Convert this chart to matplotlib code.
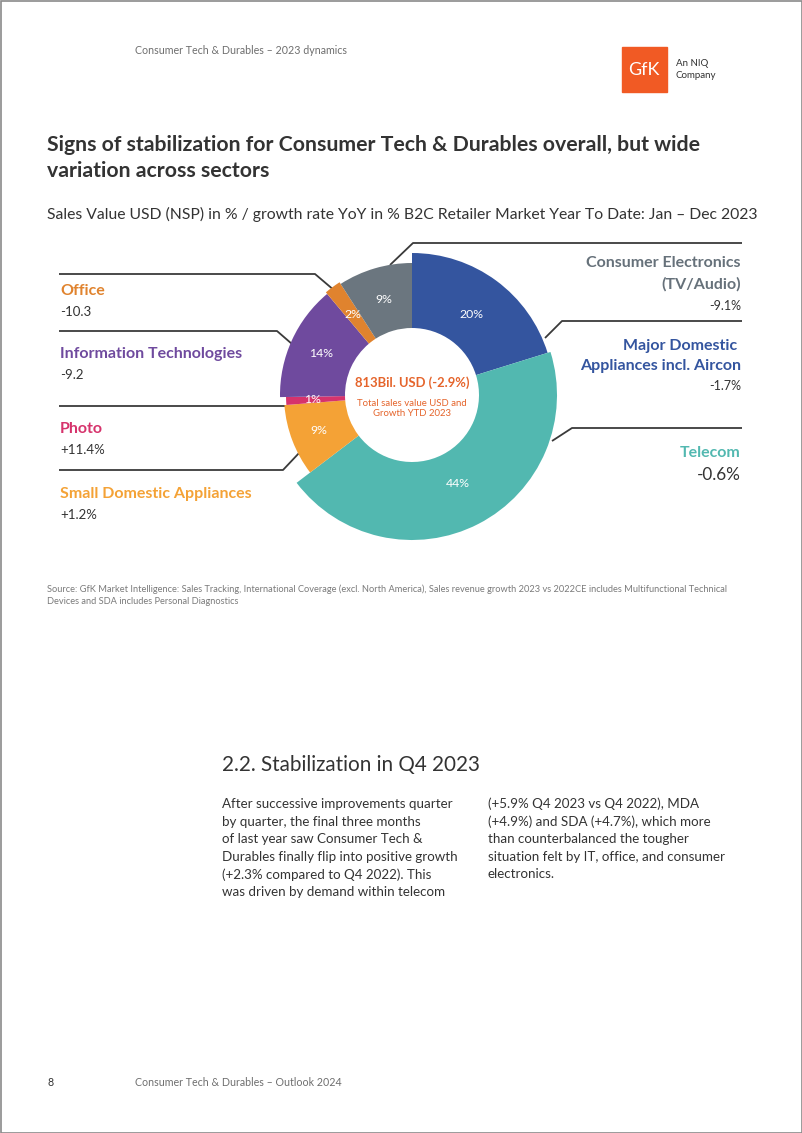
import numpy as np
import matplotlib.pyplot as plt
from matplotlib.patches import Rectangle

plt.rcParams['font.family'] = ['Lato', 'DejaVu Sans']

# chart data
sectors = ['Major Domestic Appliances incl. Aircon', 'Telecom', 'Small Domestic Appliances',
           'Photo', 'Information Technologies', 'Office', 'Consumer Electronics (TV/Audio)']
shares = [20, 44, 9, 1, 14, 2, 9]
growth = ['-1.7%', '-0.6%', '+1.2%', '+11.4%', '-9.2', '-10.3', '-9.1%']
outer_r = [142, 145, 128, 126, 132, 134, 132]
colors = ['#34559f', '#52b8b0', '#f4a236', '#d6336c', '#6f4a9e', '#e0832e', '#6b767f']
label_colors = ['#34559f', '#52b8b0', '#f4a236', '#d6336c', '#6f4a9e', '#e0832e', '#66717a']
total_text = '813Bil. USD (-2.9%)'

W, H = 802, 1133
fig = plt.figure(figsize=(W / 100, H / 100), dpi=100)
fig.patch.set_facecolor('white')

# page overlay in pixel coordinates
pg = fig.add_axes([0, 0, 1, 1])
pg.set_xlim(0, W)
pg.set_ylim(H, 0)
pg.axis('off')
pg.add_patch(Rectangle((0.5, 0.5), W - 1, H - 1, fill=False, ec='#8a8a8a', lw=1.2))

grey = '#6e6e6e'
dark = '#333333'
pg.text(135, 51, 'Consumer Tech & Durables – 2023 dynamics', fontsize=7.7, color=grey, va='center')
pg.add_patch(Rectangle((622, 47), 45, 45, color='#f15a24'))
pg.text(644, 70, 'GfK', fontsize=13, color='white', ha='center', va='center')
pg.text(676, 63, 'An NIQ', fontsize=7, color=dark, va='center')
pg.text(676, 75, 'Company', fontsize=7, color=dark, va='center')

pg.text(47, 145, 'Signs of stabilization for Consumer Tech & Durables overall, but wide',
        fontsize=15.3, fontweight='bold', color=dark, va='center')
pg.text(47, 171, 'variation across sectors', fontsize=15.3, fontweight='bold', color=dark, va='center')
pg.text(47, 214, 'Sales Value USD (NSP) in % / growth rate YoY in % B2C Retailer Market Year To Date: Jan – Dec 2023',
        fontsize=11.3, color=dark, va='center')

# leader lines
lc = '#3a3a3a'
leaders = [
    [(59, 274), (315, 274), (335, 291)],
    [(59, 331), (277, 331), (292, 344)],
    [(59, 406), (290, 406)],
    [(59, 470), (283, 470), (300, 452)],
    [(390, 265), (413, 243), (742, 243)],
    [(545, 338), (562, 321), (742, 321)],
    [(552, 441), (572, 428), (742, 428)],
]
for pts in leaders:
    xs, ys = zip(*pts)
    pg.plot(xs, ys, color=lc, lw=1.3, solid_capstyle='butt')

# left labels
pg.text(60, 291, sectors[5], fontsize=11.5, fontweight='bold', color=label_colors[5], va='center')
pg.text(60, 312, growth[5], fontsize=9.5, color=dark, va='center')
pg.text(60, 354, sectors[4], fontsize=11.5, fontweight='bold', color=label_colors[4], va='center')
pg.text(60, 375, growth[4], fontsize=9.5, color=dark, va='center')
pg.text(60, 429, sectors[3], fontsize=11.5, fontweight='bold', color=label_colors[3], va='center')
pg.text(60, 450, growth[3], fontsize=9.5, color=dark, va='center')
pg.text(60, 494, sectors[2], fontsize=11.5, fontweight='bold', color=label_colors[2], va='center')
pg.text(60, 515, growth[2], fontsize=9.5, color=dark, va='center')

# right labels
pg.text(741, 263, 'Consumer Electronics', fontsize=11.5, fontweight='bold', color=label_colors[6], ha='right', va='center')
pg.text(741, 284, '(TV/Audio)', fontsize=11.5, fontweight='bold', color=label_colors[6], ha='right', va='center')
pg.text(741, 306, growth[6], fontsize=9, color=dark, ha='right', va='center')
pg.text(741, 346, 'Major Domestic ', fontsize=11.5, fontweight='bold', color=label_colors[0], ha='right', va='center')
pg.text(741, 366, 'Appliances incl. Aircon', fontsize=11.5, fontweight='bold', color=label_colors[0], ha='right', va='center')
pg.text(741, 386, growth[0], fontsize=9, color=dark, ha='right', va='center')
pg.text(741, 453, sectors[1], fontsize=11.5, fontweight='bold', color=label_colors[1], ha='right', va='center')
pg.text(741, 475, growth[1], fontsize=12.3, color=dark, ha='right', va='center')

# source note
src_c = '#7a7a7a'
pg.text(47, 589, 'Source: GfK Market Intelligence: Sales Tracking, International Coverage (excl. North America), '
        'Sales revenue growth 2023 vs 2022CE includes Multifunctional Technical', fontsize=6.7, color=src_c, va='center')
pg.text(47, 601, 'Devices and SDA includes Personal Diagnostics', fontsize=6.7, color=src_c, va='center')

# section text
pg.text(222, 765, '2.2. Stabilization in Q4 2023', fontsize=14.9, color=dark, va='center')
left_col = ['After successive improvements quarter', 'by quarter, the final three months',
            'of last year saw Consumer Tech &', 'Durables finally flip into positive growth',
            '(+2.3% compared to Q4 2022). This', 'was driven by demand within telecom']
right_col = ['(+5.9% Q4 2023 vs Q4 2022), MDA', '(+4.9%) and SDA (+4.7%), which more',
             'than counterbalanced the tougher', 'situation felt by IT, office, and consumer',
             'electronics.']
for i, s in enumerate(left_col):
    pg.text(222, 804 + i * 17.6, s, fontsize=9.65, color=dark, va='center')
for i, s in enumerate(right_col):
    pg.text(488, 804 + i * 17.6, s, fontsize=9.65, color=dark, va='center')

pg.text(47, 1082, '8', fontsize=7.7, color=dark, va='center')
pg.text(135, 1082, 'Consumer Tech & Durables – Outlook 2024', fontsize=7.7, color=grey, va='center')

# donut, one data unit = one pixel
cx, cy, half = 412, 395, 160
ax = fig.add_axes([(cx - half) / W, (H - cy - half) / H, 2 * half / W, 2 * half / H])
wedges, _ = ax.pie(shares, colors=colors, startangle=90, counterclock=False, radius=1,
                   wedgeprops=dict(width=0.5, linewidth=0))
hole = 67
for w, r in zip(wedges, outer_r):
    w.set_radius(r)
    w.set_width(r - hole)
for w, s in zip(wedges, shares):
    mid = np.deg2rad((w.theta1 + w.theta2) / 2)
    ax.text(100 * np.cos(mid), 100 * np.sin(mid), f'{s}%', fontsize=8.8, color='white',
            ha='center', va='center')
ax.set_xlim(-half, half)
ax.set_ylim(-half, half)
ax.set_aspect('equal')
ax.axis('off')
ax.patch.set_alpha(0)

oc = '#e5642b'
ax.text(0, 12, total_text, fontsize=9.4, fontweight='bold', color=oc, ha='center', va='center')
ax.text(0, -8, 'Total sales value USD and', fontsize=6.9, color=oc, ha='center', va='center')
ax.text(0, -19, 'Growth YTD 2023', fontsize=6.9, color=oc, ha='center', va='center')

fig.savefig('out.png', dpi=100)
